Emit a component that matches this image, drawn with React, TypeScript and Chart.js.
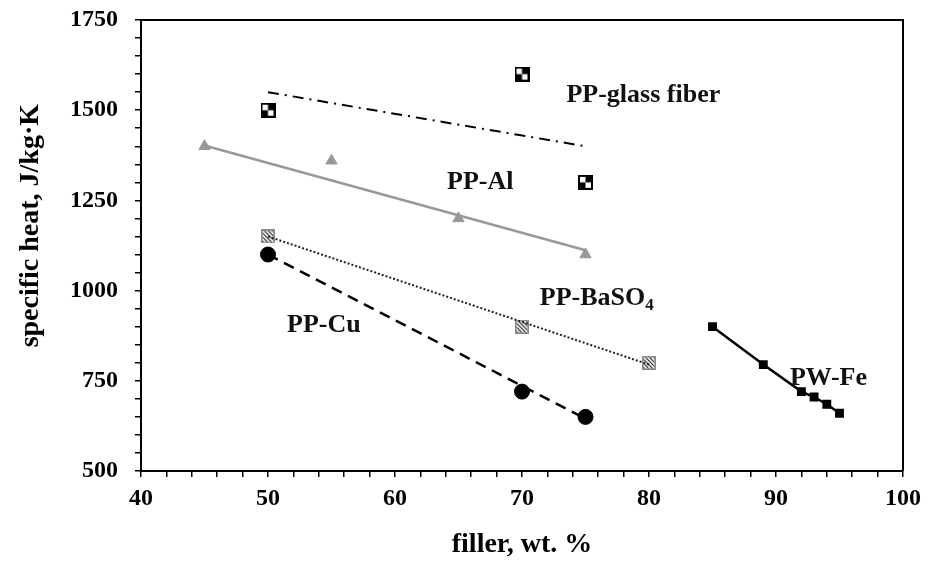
import React, { useEffect, useRef } from "react";
import { Chart, registerables } from "chart.js";

Chart.register(...registerables);

// Data (filler wt.% , specific heat J/kg·K)
const glassX = [50, 70, 75];
const glassY = [1500, 1600, 1300];
const glassFitX = [50, 75];
const glassFitY = [1550, 1400];

const alX = [45, 55, 65, 75];
const alY = [1400, 1360, 1200, 1100];
const alFitX = [45, 75];
const alFitY = [1402, 1112];

const basoX = [50, 70, 80];
const basoY = [1150, 900, 800];
const basoFitX = [50, 80];
const basoFitY = [1150, 795];

const cuX = [50, 70, 75];
const cuY = [1100, 720, 650];
const cuFitX = [50, 75];
const cuFitY = [1100, 645];

const feX = [85, 89, 92, 93, 94, 95];
const feY = [900, 795, 720, 705, 685, 660];

const labelText = ["PP-glass fiber", "PP-Al", "PP-BaSO", "PP-Cu", "PW-Fe"];
const labelX = [73.5, 64.1, 71.4, 51.5, 91.1];
const labelY = [1542, 1301, 979, 905, 758];

const xTickLabels = [40, 50, 60, 70, 80, 90, 100];
const yTickLabels = [500, 750, 1000, 1250, 1500, 1750];
const yTitle = "specific heat, J/kg·K";
const xTitle = "filler, wt. %";

const zip = (xs: number[], ys: number[]) => xs.map((x, i) => ({ x, y: ys[i] }));

function checkerMarker(): HTMLCanvasElement {
  const c = document.createElement("canvas");
  c.width = 15;
  c.height = 15;
  const g = c.getContext("2d")!;
  g.fillStyle = "#000";
  g.fillRect(0, 0, 15, 15);
  g.fillStyle = "#fff";
  g.fillRect(2, 2, 11, 11);
  g.fillStyle = "#000";
  g.fillRect(7.5, 2, 5.5, 5.5);
  g.fillRect(2, 7.5, 5.5, 5.5);
  return c;
}

function hatchMarker(): HTMLCanvasElement {
  const c = document.createElement("canvas");
  c.width = 14;
  c.height = 14;
  const g = c.getContext("2d")!;
  g.fillStyle = "#fff";
  g.fillRect(0, 0, 14, 14);
  g.strokeStyle = "#888";
  g.lineWidth = 1.5;
  g.strokeRect(0.75, 0.75, 12.5, 12.5);
  g.save();
  g.beginPath();
  g.rect(1.5, 1.5, 11, 11);
  g.clip();
  g.strokeStyle = "#222";
  g.lineWidth = 1.2;
  for (let k = -14; k < 28; k += 4) {
    g.beginPath();
    g.moveTo(k, 0);
    g.lineTo(k + 14, 14);
    g.stroke();
  }
  g.restore();
  return c;
}

const FONT = "'Liberation Serif', 'DejaVu Serif', serif";

const frameAndLabels = {
  id: "frameAndLabels",
  afterDatasetsDraw(chart: any) {
    const { ctx, chartArea, scales } = chart;
    ctx.save();
    ctx.strokeStyle = "#000";
    ctx.lineWidth = 2;
    ctx.beginPath();
    ctx.moveTo(chartArea.left, chartArea.top);
    ctx.lineTo(chartArea.right, chartArea.top);
    ctx.lineTo(chartArea.right, chartArea.bottom);
    ctx.stroke();

    ctx.fillStyle = "#111";
    ctx.textAlign = "left";
    ctx.textBaseline = "middle";
    labelText.forEach((t, i) => {
      const px = scales.x.getPixelForValue(labelX[i]);
      const py = scales.y.getPixelForValue(labelY[i]);
      ctx.font = `bold 26px ${FONT}`;
      ctx.fillText(t, px, py);
      if (t === "PP-BaSO") {
        const w = ctx.measureText(t).width;
        ctx.font = `bold 17px ${FONT}`;
        ctx.fillText("4", px + w, py + 7);
      }
    });

    // y-axis title, slightly above centre as in the reference
    ctx.fillStyle = "#000";
    ctx.font = `bold 28px ${FONT}`;
    ctx.textAlign = "center";
    ctx.translate(31, chartArea.top + (chartArea.bottom - chartArea.top) * 0.456);
    ctx.rotate(-Math.PI / 2);
    ctx.fillText(yTitle, 0, 0);
    ctx.restore();
  },
};

export default function App() {
  const ref = useRef<HTMLCanvasElement | null>(null);

  useEffect(() => {
    document.body.style.margin = "0";
    const checker = checkerMarker();
    const hatch = hatchMarker();
    const chart = new Chart(ref.current!, {
      type: "scatter",
      data: {
        datasets: [
          {
            label: "glass fit",
            data: zip(glassFitX, glassFitY),
            showLine: true,
            borderColor: "#000",
            borderWidth: 2,
            borderDash: [11, 6, 2, 6],
            pointRadius: 0,
          },
          {
            label: "PP-glass fiber",
            data: zip(glassX, glassY),
            pointStyle: checker,
            pointRadius: 7,
          },
          {
            label: "Al fit",
            data: zip(alFitX, alFitY),
            showLine: true,
            borderColor: "#999",
            borderWidth: 2.5,
            pointRadius: 0,
          },
          {
            label: "PP-Al",
            data: zip(alX, alY),
            pointStyle: "triangle",
            pointRadius: 6.5,
            backgroundColor: "#999",
            borderColor: "#999",
          },
          {
            label: "BaSO4 fit",
            data: zip(basoFitX, basoFitY),
            showLine: true,
            borderColor: "#222",
            borderWidth: 2,
            borderDash: [2, 2],
            pointRadius: 0,
          },
          {
            label: "PP-BaSO4",
            data: zip(basoX, basoY),
            pointStyle: hatch,
            pointRadius: 7,
          },
          {
            label: "Cu fit",
            data: zip(cuFitX, cuFitY),
            showLine: true,
            borderColor: "#000",
            borderWidth: 2.5,
            borderDash: [11, 7],
            pointRadius: 0,
          },
          {
            label: "PP-Cu",
            data: zip(cuX, cuY),
            pointStyle: "circle",
            pointRadius: 7.5,
            backgroundColor: "#000",
            borderColor: "#000",
          },
          {
            label: "PW-Fe",
            data: zip(feX, feY),
            showLine: true,
            borderColor: "#000",
            borderWidth: 2.5,
            pointStyle: "rect",
            pointRadius: 4.5,
            backgroundColor: "#000",
          },
        ],
      },
      options: {
        responsive: false,
        animation: false,
        layout: { padding: { top: 20, right: 26, left: 0, bottom: 0 } },
        plugins: {
          legend: { display: false },
          tooltip: { enabled: false },
        },
        scales: {
          x: {
            type: "linear",
            min: 40,
            max: 100,
            afterFit: (s: any) => {
              s.height = 94;
              s.paddingLeft = 0;
              s.paddingRight = 0;
            },
            afterBuildTicks: (s: any) => {
              const t = [];
              for (let v = 40; v <= 100; v += 2) t.push({ value: v });
              s.ticks = t;
            },
            ticks: {
              autoSkip: false,
              maxRotation: 0,
              color: "#000",
              padding: 7,
              font: { family: FONT, size: 24, weight: "bold" },
              callback: (v: any) => (xTickLabels.includes(v) ? String(v) : ""),
            },
            grid: {
              drawOnChartArea: false,
              drawTicks: true,
              tickLength: 6,
              color: "#000",
              lineWidth: 1.5,
            },
            border: { display: true, color: "#000", width: 2 },
            title: {
              display: true,
              text: xTitle,
              color: "#000",
              font: { family: FONT, size: 28, weight: "bold" },
              padding: { top: 8, bottom: 3 },
            },
          },
          y: {
            type: "linear",
            min: 500,
            max: 1750,
            afterFit: (s: any) => {
              s.width = 141;
              s.paddingTop = 0;
              s.paddingBottom = 0;
            },
            afterBuildTicks: (s: any) => {
              const t = [];
              for (let v = 500; v <= 1750; v += 50) t.push({ value: v });
              s.ticks = t;
            },
            ticks: {
              autoSkip: false,
              color: "#000",
              padding: 17,
              font: { family: FONT, size: 24, weight: "bold" },
              callback: (v: any) => (yTickLabels.includes(v) ? String(v) : ""),
            },
            grid: {
              drawOnChartArea: false,
              drawTicks: true,
              tickLength: 6,
              color: "#000",
              lineWidth: 1.5,
            },
            border: { display: true, color: "#000", width: 2 },
            title: { display: false },
          },
        },
      },
      plugins: [frameAndLabels],
    });
    return () => chart.destroy();
  }, []);

  return <canvas ref={ref} width={929} height={565} style={{ display: "block" }} />;
}
